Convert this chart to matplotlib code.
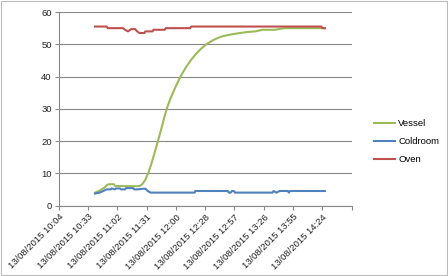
import matplotlib
matplotlib.use("Agg")
import matplotlib.pyplot as plt
from matplotlib.patches import Rectangle
from datetime import datetime, timedelta

DAY = "2015-08-13 "

vessel_t = ["10:40:30", "10:45", "10:50", "10:52", "10:54", "10:59", "11:00", "11:10", "11:20", "11:24",
            "11:27", "11:30", "11:33", "11:36", "11:39", "11:42", "11:45", "11:48", "11:51", "11:54",
            "11:57", "12:00", "12:03", "12:06", "12:10", "12:15", "12:20", "12:25", "12:30", "12:35",
            "12:40", "12:46", "12:55", "13:03", "13:10", "13:18", "13:25", "13:37", "13:47", "14:00",
            "14:26:30"]
vessel_v = [4.0, 4.6, 5.6, 6.3, 6.6, 6.6, 6.1, 6.0, 6.0, 6.0,
            6.6, 8.0, 10.2, 13.0, 16.3, 19.6, 23.0, 26.6, 30.0, 32.6,
            34.9, 37.0, 39.0, 40.8, 42.9, 45.2, 47.1, 48.7, 50.0, 51.0,
            51.8, 52.5, 53.1, 53.5, 53.8, 54.0, 54.5, 54.5, 55.0, 55.0,
            55.0]

cold_t = ["10:40:30", "10:45", "10:48", "10:52", "10:56", "10:57", "11:00", "11:01", "11:05", "11:06",
          "11:10", "11:11", "11:18", "11:19", "11:22", "11:28", "11:30", "11:32", "11:35",
          "12:18:30", "12:19", "12:51", "12:52", "12:54", "12:55", "12:57", "12:58", "13:35", "13:36",
          "13:39", "13:42", "13:50", "13:51", "13:52", "14:26:30"]
cold_v = [3.7, 4.0, 4.4, 5.0, 5.0, 5.3, 5.0, 5.3, 5.3, 5.0,
          5.0, 5.4, 5.4, 5.0, 5.0, 5.2, 5.2, 4.6, 4.0,
          4.0, 4.5, 4.5, 4.0, 4.0, 4.5, 4.5, 4.0, 4.0, 4.5,
          4.0, 4.5, 4.5, 4.0, 4.5, 4.5]

oven_t = ["10:40:30", "10:52", "10:53", "11:08", "11:10", "11:13", "11:16", "11:20", "11:22", "11:24",
          "11:29", "11:30", "11:37", "11:38", "11:49", "11:50", "12:14", "12:15", "14:23", "14:24", "14:26:30"]
oven_v = [55.5, 55.5, 55.0, 55.0, 54.5, 54.0, 54.7, 54.7, 54.0, 53.5,
          53.5, 54.0, 54.0, 54.5, 54.5, 55.0, 55.0, 55.5, 55.5, 55.0, 55.0]

tick_labels = ["13/08/2015 10:04", "13/08/2015 10:33", "13/08/2015 11:02", "13/08/2015 11:31",
               "13/08/2015 12:00", "13/08/2015 12:28", "13/08/2015 12:57", "13/08/2015 13:26",
               "13/08/2015 13:55", "13/08/2015 14:24", ""]

series_names = ["Vessel", "Coldroom", "Oven"]
colors = ["#9BBB59", "#4F81BD", "#C0504D"]


def to_dt(s):
    fmt = "%Y-%m-%d %H:%M:%S" if s.count(":") == 2 else "%Y-%m-%d %H:%M"
    return datetime.strptime(DAY + s, fmt)


plt.rcParams['font.family'] = ['Liberation Sans', 'DejaVu Sans']

fig = plt.figure(figsize=(4.48, 2.76), dpi=100)
ax = fig.add_axes([0.131, 0.2554, 0.654, 0.701])

for name, tt, vv, c in zip(series_names, [vessel_t, cold_t, oven_t], [vessel_v, cold_v, oven_v], colors):
    ax.plot([to_dt(s) for s in tt], vv, color=c, lw=1.5, label=name, solid_joinstyle='round')

start = datetime(2015, 8, 13, 10, 4, 48)
ticks = [start + timedelta(minutes=28.8 * i) for i in range(11)]
ax.set_xlim(ticks[0], ticks[-1])
ax.set_xticks(ticks)
ax.set_xticklabels(tick_labels, rotation=45, ha='right', va='top', rotation_mode='anchor',
                   fontsize=6.8, color='#222222')
ax.set_ylim(0, 60)
ax.set_yticks(range(0, 61, 10))
ax.tick_params(axis='y', labelsize=6.8, length=3, color='#888888', labelcolor='#222222', pad=2)
ax.tick_params(axis='x', length=3, color='#888888', pad=2)
ax.grid(axis='y', color='#888888', lw=0.8)
ax.set_axisbelow(True)
for side in ['top', 'right']:
    ax.spines[side].set_visible(False)
for side in ['left', 'bottom']:
    ax.spines[side].set_color('#888888')
    ax.spines[side].set_linewidth(0.8)

leg = ax.legend(loc='upper left', bbox_to_anchor=(1.055, 0.482), frameon=False, fontsize=6.8,
                handlelength=2.2, handletextpad=0.3, labelspacing=0.95, borderpad=0.2)

fig.patches.append(Rectangle((0.002, 0.004), 0.996, 0.992, transform=fig.transFigure,
                             fill=False, edgecolor='#BBBBBB', lw=0.8))

fig.savefig("out.png", dpi=100)
